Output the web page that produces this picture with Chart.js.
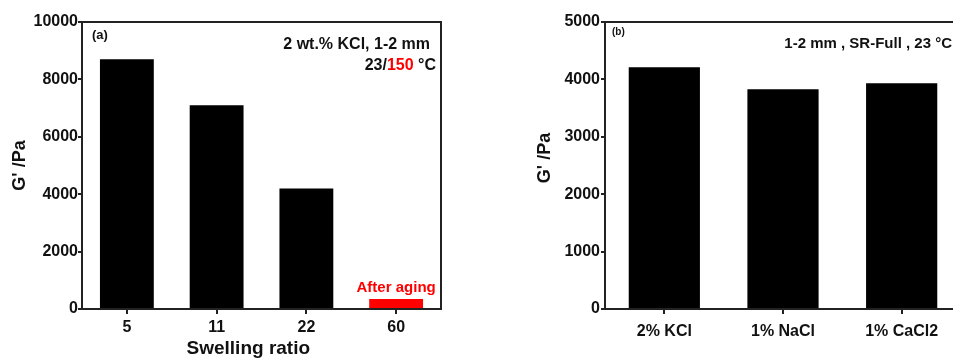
<!DOCTYPE html>
<html>
<head>
<meta charset="utf-8">
<script src="https://cdn.jsdelivr.net/npm/chart.js@4"></script>
<style>
  html, body { margin: 0; padding: 0; background: #fff; overflow: hidden; }
  #wrapA { position: absolute; left: 0; top: 0; width: 470px; height: 358px; }
  #wrapB { position: absolute; left: 490px; top: 0; width: 480px; height: 358px; }
</style>
</head>
<body>
<div id="wrapA"><canvas id="chartA"></canvas></div>
<div id="wrapB"><canvas id="chartB"></canvas></div>
<script>
// panel (a)
var swellLabels = ['5', '11', '22', '60'];
var swellValues = [8700, 7100, 4200, 350];
var swellColors = ['#000000', '#000000', '#000000', '#ff0000'];
var yTicksA = [0, 2000, 4000, 6000, 8000, 10000];

// panel (b)
var saltLabels = ['2% KCl', '1% NaCl', '1% CaCl2'];
var saltValues = [4210, 3830, 3935];
var yTicksB = [0, 1000, 2000, 3000, 4000, 5000];

Chart.defaults.font.family = "'Liberation Sans', Arial, sans-serif";
Chart.defaults.font.weight = 'bold';
Chart.defaults.color = '#111';

var axisColor = '#222';

// top and right frame lines
var boxPlugin = {
  id: 'box',
  afterDraw: function(chart) {
    var a = chart.chartArea;
    var ctx = chart.ctx;
    ctx.save();
    ctx.strokeStyle = axisColor;
    ctx.lineWidth = 2;
    ctx.beginPath();
    ctx.moveTo(a.left - 1, a.top);
    ctx.lineTo(a.right, a.top);
    ctx.lineTo(a.right, a.bottom + 1);
    ctx.stroke();
    ctx.restore();
  }
};

function notesA(chart) {
  var ctx = chart.ctx;
  ctx.save();
  ctx.fillStyle = '#111';
  ctx.textBaseline = 'middle';
  ctx.font = "bold 13px 'Liberation Sans', Arial";
  ctx.textAlign = 'left';
  ctx.fillText('(a)', 92, 35);

  ctx.font = "bold 16px 'Liberation Sans', Arial";
  ctx.textAlign = 'right';
  ctx.fillText('2 wt.% KCl, 1-2 mm', 430, 45);

  // 23/150 °C with red 150
  var right = 436;
  var p3 = ' \u00b0C', p2 = '150', p1 = '23/';
  var w3 = ctx.measureText(p3).width;
  var w2 = ctx.measureText(p2).width;
  ctx.fillText(p3, right, 66);
  ctx.fillStyle = '#ff0000';
  ctx.fillText(p2, right - w3, 66);
  ctx.fillStyle = '#111';
  ctx.fillText(p1, right - w3 - w2, 66);

  // label over the aged bar
  var bar = chart.getDatasetMeta(0).data[3];
  ctx.fillStyle = '#ff0000';
  ctx.font = "bold 15px 'Liberation Sans', Arial";
  ctx.textAlign = 'center';
  ctx.fillText('After aging', bar.x, bar.y - 11);
  ctx.restore();
}

function notesB(chart) {
  var ctx = chart.ctx;
  ctx.save();
  ctx.fillStyle = '#111';
  ctx.textBaseline = 'middle';
  ctx.font = "bold 10px 'Liberation Sans', Arial";
  ctx.textAlign = 'left';
  ctx.fillText('(b)', 122, 32);
  ctx.font = "bold 15px 'Liberation Sans', Arial";
  ctx.textAlign = 'right';
  ctx.fillText('1-2 mm , SR-Full , 23 \u00b0C', 462, 44);
  ctx.restore();
}

function yAxis(max, step, width, titleText, titlePad, tickPad) {
  return {
    min: 0,
    max: max,
    afterFit: function(s) { s.width = width; },
    border: { display: true, color: axisColor, width: 2 },
    grid: { display: true, drawOnChartArea: false, drawTicks: true, tickLength: 4, color: axisColor, lineWidth: 2 },
    ticks: {
      stepSize: step, padding: tickPad, color: '#111', font: { size: 16, weight: 'bold' },
      callback: function(v) { return String(v); }
    },
    title: { display: true, text: titleText, color: '#111', padding: { top: titlePad, bottom: 0 }, font: { size: 18, weight: 'bold' } }
  };
}

function xAxis(tickPad, title) {
  var ax = {
    afterFit: function(s) { s.height = 49; },
    border: { display: true, color: axisColor, width: 2 },
    grid: { display: true, drawOnChartArea: false, drawTicks: true, tickLength: 5, color: axisColor, lineWidth: 2, offset: false },
    ticks: { padding: tickPad, color: '#111', font: { size: 16, weight: 'bold' } }
  };
  if (title) {
    ax.title = { display: true, text: title, color: '#111', padding: { top: 0, bottom: -2 }, font: { size: 19, weight: 'bold' } };
  }
  return ax;
}

var chartA = new Chart(document.getElementById('chartA'), {
  type: 'bar',
  data: {
    labels: swellLabels,
    datasets: [{
      data: swellValues,
      backgroundColor: swellColors,
      borderWidth: 0,
      categoryPercentage: 0.6,
      barPercentage: 1.0
    }]
  },
  options: {
    responsive: true,
    maintainAspectRatio: false,
    animation: false,
    layout: { padding: { top: 22, right: 29, left: 0, bottom: 0 } },
    plugins: { legend: { display: false }, tooltip: { enabled: false } },
    scales: {
      x: xAxis(4, 'Swelling ratio     '),
      y: yAxis(10000, 2000, 82, "G' /Pa", 9, 0)
    }
  },
  plugins: [boxPlugin, { id: 'notesA', afterDraw: notesA }]
});

var chartB = new Chart(document.getElementById('chartB'), {
  type: 'bar',
  data: {
    labels: saltLabels,
    datasets: [{
      data: saltValues,
      backgroundColor: '#000000',
      borderWidth: 0,
      categoryPercentage: 0.6,
      barPercentage: 1.0
    }]
  },
  options: {
    responsive: true,
    maintainAspectRatio: false,
    animation: false,
    layout: { padding: { top: 22, right: 9, left: 0, bottom: 0 } },
    plugins: { legend: { display: false }, tooltip: { enabled: false } },
    scales: {
      x: xAxis(8, null),
      y: yAxis(5000, 1000, 115, "   G' /Pa", 44, 1)
    }
  },
  plugins: [boxPlugin, { id: 'notesB', afterDraw: notesB }]
});
</script>
</body>
</html>
